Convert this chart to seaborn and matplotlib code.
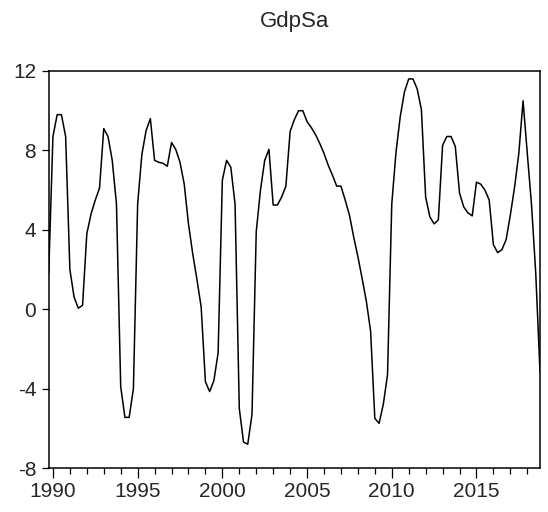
import matplotlib
matplotlib.use("Agg")
import matplotlib.pyplot as plt
import seaborn as sns
import pandas as pd
import numpy as np
from matplotlib.ticker import MultipleLocator, FixedLocator

# Quarterly data, 1989Q4 .. 2018Q4
start_period = "1989Q4"
gdp_sa = [
    1.8,
    8.7, 9.8, 9.8, 8.7,        # 1990
    2.0, 0.6, 0.05, 0.2,       # 1991
    3.8, 4.8, 5.5, 6.1,        # 1992
    9.1, 8.7, 7.5, 5.3,        # 1993
    -3.9, -5.45, -5.45, -4.0,  # 1994
    5.3, 7.8, 9.0, 9.6,        # 1995
    7.5, 7.4, 7.35, 7.2,       # 1996
    8.4, 8.05, 7.4, 6.3,       # 1997
    4.3, 2.8, 1.5, 0.1,        # 1998
    -3.65, -4.15, -3.6, -2.2,  # 1999
    6.5, 7.5, 7.15, 5.3,       # 2000
    -5.0, -6.7, -6.8, -5.3,    # 2001
    3.9, 6.0, 7.5, 8.05,       # 2002
    5.25, 5.25, 5.65, 6.2,     # 2003
    8.95, 9.55, 10.0, 10.0,    # 2004
    9.45, 9.15, 8.8, 8.35,     # 2005
    7.85, 7.25, 6.75, 6.2,     # 2006
    6.2, 5.5, 4.75, 3.65,      # 2007
    2.65, 1.55, 0.4, -1.1,     # 2008
    -5.5, -5.75, -4.8, -3.3,   # 2009
    5.3, 7.9, 9.7, 10.95,      # 2010
    11.6, 11.6, 11.1, 10.05,   # 2011
    5.65, 4.65, 4.3, 4.5,      # 2012
    8.25, 8.7, 8.7, 8.2,       # 2013
    5.85, 5.15, 4.85, 4.7,     # 2014
    6.4, 6.3, 6.0, 5.5,        # 2015
    3.25, 2.85, 3.0, 3.5,      # 2016
    4.75, 6.15, 7.85, 10.5,    # 2017
    7.85, 5.25, 1.8, -3.15,    # 2018
]
y_ticks = [12, 8, 4, 0, -4, -8]
x_major_ticks = [1990, 1995, 2000, 2005, 2010, 2015]
title = "GdpSa"

periods = pd.period_range(start=start_period, periods=len(gdp_sa), freq="Q")
df = pd.DataFrame({
    "t": periods.year + (periods.quarter - 1) / 4.0,
    "GdpSa": gdp_sa,
})

sns.set_theme(style="white")
plt.rcParams["font.family"] = ["Liberation Sans Narrow", "Liberation Sans", "DejaVu Sans"]
plt.rcParams["axes.unicode_minus"] = False

fig = plt.figure(figsize=(5.48, 5.12), dpi=100)
ax = fig.add_axes([48.7 / 548, 1 - 468 / 512, (540 - 48.7) / 548, (468 - 71) / 512])

sns.lineplot(data=df, x="t", y="GdpSa", ax=ax, color="black", linewidth=1.1)

ax.set_xlim(df["t"].iloc[0], df["t"].iloc[-1])
ax.set_ylim(min(y_ticks), max(y_ticks))
ax.set_yticks(y_ticks)
ax.set_yticklabels([str(v) for v in y_ticks])
ax.xaxis.set_major_locator(FixedLocator(x_major_ticks))
ax.xaxis.set_minor_locator(MultipleLocator(1))
ax.set_xticklabels([str(v) for v in x_major_ticks])

ax.set_xlabel("")
ax.set_ylabel("")
ax.tick_params(axis="y", which="major", direction="out", length=5, width=0.9,
               color="black", labelsize=15, pad=4, left=True, right=False)
ax.tick_params(axis="x", which="major", direction="out", length=7, width=0.9,
               color="black", labelsize=15, pad=3, bottom=True, top=False)
ax.tick_params(axis="x", which="minor", direction="out", length=4, width=0.9,
               color="black", bottom=True, top=False)
for s in ax.spines.values():
    s.set_visible(True)
    s.set_color("black")
    s.set_linewidth(1.1)
ax.grid(False)

fig.text((48.7 + 540) / 2 / 548, 1 - 22 / 512, title, ha="center", va="center",
         fontsize=16, family=["Liberation Sans", "DejaVu Sans"])

fig.savefig("out.png", dpi=100, facecolor="white")
